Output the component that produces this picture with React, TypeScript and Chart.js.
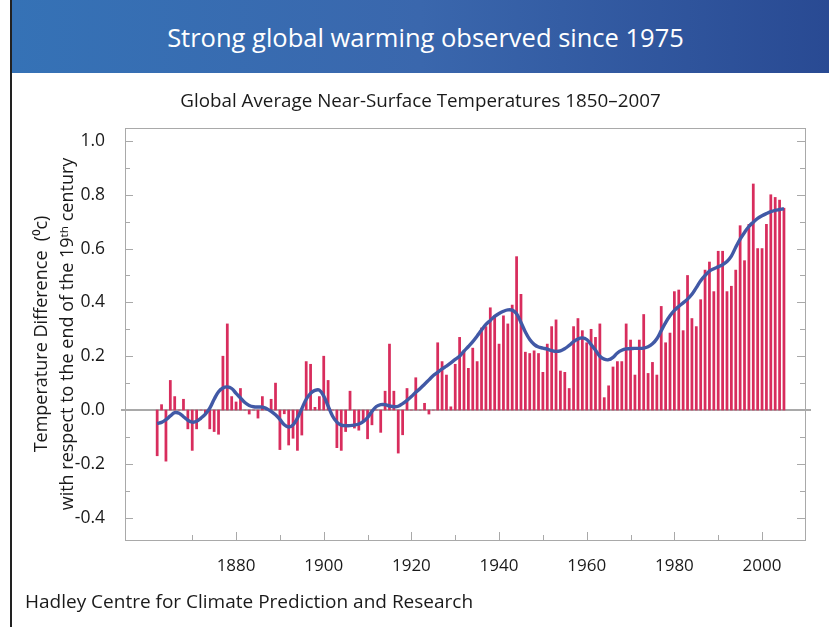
import React, { useEffect, useRef } from 'react';
import { Chart, registerables } from 'chart.js';

Chart.register(...registerables);

// ---------- data ----------
const firstYear = 1862;

// annual temperature difference (°C) w.r.t. end of 19th century, 1862–2005
const anomalies = [
  -0.17, 0.02, -0.19, 0.11, 0.05, 0.0, 0.04, -0.07, -0.15, -0.07, // 1862-1871
  0.0, -0.01, -0.07, -0.08, -0.09, 0.2, 0.32, 0.05, 0.03, 0.08, // 1872-1881
  0.0, -0.015, 0.0, -0.03, 0.05, 0.0, 0.04, 0.1, -0.147, -0.014, // 1882-1891
  -0.13, -0.105, -0.15, -0.093, 0.18, 0.17, 0.01, 0.05, 0.2, 0.11, // 1892-1901
  0.0, -0.14, -0.15, -0.08, 0.07, -0.067, -0.075, -0.04, -0.107, -0.055, // 1902-1911
  0.0, -0.083, 0.07, 0.245, 0.07, -0.16, -0.092, 0.08, 0.0, 0.12, // 1912-1921
  0.0, 0.025, -0.015, 0.0, 0.25, 0.18, 0.13, 0.012, 0.17, 0.27, // 1922-1931
  0.22, 0.155, 0.23, 0.18, 0.305, 0.31, 0.38, 0.35, 0.245, 0.35, // 1932-1941
  0.32, 0.39, 0.57, 0.43, 0.215, 0.21, 0.22, 0.21, 0.14, 0.245, // 1942-1951
  0.31, 0.335, 0.145, 0.14, 0.08, 0.31, 0.34, 0.295, 0.25, 0.3, // 1952-1961
  0.27, 0.32, 0.046, 0.09, 0.16, 0.18, 0.18, 0.32, 0.26, 0.13, // 1962-1971
  0.26, 0.355, 0.136, 0.177, 0.13, 0.385, 0.25, 0.286, 0.44, 0.446, // 1972-1981
  0.295, 0.5, 0.34, 0.31, 0.41, 0.52, 0.55, 0.44, 0.59, 0.59, // 1982-1991
  0.44, 0.46, 0.52, 0.685, 0.555, 0.69, 0.84, 0.6, 0.6, 0.69, // 1992-2001
  0.8, 0.79, 0.78, 0.75, // 2002-2005
];

// smoothed curve at each year 1862–2005
const smoothed = [
  -0.05, -0.046, -0.036, -0.022, -0.01, -0.012, -0.025, -0.038, -0.045, -0.042, // 1862-1871
  -0.03, -0.015, 0.007, 0.04, 0.068, 0.082, 0.086, 0.08, 0.062, 0.045, // 1872-1881
  0.028, 0.017, 0.012, 0.011, 0.011, 0.005, -0.005, -0.018, -0.035, -0.055, // 1882-1891
  -0.063, -0.055, -0.03, 0.005, 0.04, 0.062, 0.073, 0.074, 0.052, 0.015, // 1892-1901
  -0.022, -0.045, -0.056, -0.058, -0.058, -0.056, -0.052, -0.043, -0.028, -0.005, // 1902-1911
  0.013, 0.02, 0.02, 0.015, 0.012, 0.014, 0.024, 0.036, 0.05, 0.066, // 1912-1921
  0.08, 0.096, 0.112, 0.128, 0.14, 0.153, 0.163, 0.175, 0.188, 0.2, // 1922-1931
  0.219, 0.236, 0.254, 0.275, 0.297, 0.318, 0.333, 0.348, 0.359, 0.367, // 1932-1941
  0.372, 0.371, 0.358, 0.325, 0.29, 0.262, 0.244, 0.234, 0.23, 0.226, // 1942-1951
  0.221, 0.218, 0.22, 0.228, 0.24, 0.254, 0.264, 0.268, 0.262, 0.243, // 1952-1961
  0.222, 0.2, 0.189, 0.187, 0.196, 0.212, 0.222, 0.227, 0.228, 0.229, // 1962-1971
  0.229, 0.23, 0.235, 0.246, 0.265, 0.295, 0.325, 0.35, 0.37, 0.385, // 1972-1981
  0.398, 0.412, 0.43, 0.455, 0.48, 0.5, 0.516, 0.525, 0.532, 0.54, // 1982-1991
  0.552, 0.572, 0.605, 0.635, 0.66, 0.682, 0.698, 0.712, 0.722, 0.73, // 1992-2001
  0.737, 0.742, 0.745, 0.748, // 2002-2005
];

const years = anomalies.map((_, i) => firstYear + i);

const xTickValues = [1870, 1880, 1890, 1900, 1910, 1920, 1930, 1940, 1950, 1960, 1970, 1980, 1990, 2000];
const xLabelYears = [1880, 1900, 1920, 1940, 1960, 1980, 2000];
const yTickValues = [-0.4, -0.3, -0.2, -0.1, 0.0, 0.1, 0.2, 0.3, 0.4, 0.5, 0.6, 0.7, 0.8, 0.9, 1.0];
const yLabelValues = [-0.4, -0.2, 0.0, 0.2, 0.4, 0.6, 0.8, 1.0];

const bannerTitle = 'Strong global warming observed since 1975';
const chartTitle = 'Global Average Near-Surface Temperatures 1850–2007';
const yTitle = ['Temperature Difference  (⁰c)', 'with respect to the end of the 19ᵗʰ century'];
const footer = 'Hadley Centre for Climate Prediction and Research';

const FONT = "'Open Sans', 'Noto Sans', 'DejaVu Sans', sans-serif";

const isIn = (list: number[], v: number) => list.some((t) => Math.abs(t - v) < 1e-6);

const framePlugin = {
  id: 'frame',
  beforeDatasetsDraw(chart: any) {
    const { ctx, chartArea: a, scales } = chart;
    const y = scales.y;
    const y0 = y.getPixelForValue(0);
    ctx.save();
    ctx.strokeStyle = '#a9a9a9';
    ctx.lineWidth = 1;
    ctx.strokeRect(a.left + 0.5, a.top + 0.5, a.right - a.left, a.bottom - a.top);
    ctx.lineWidth = 2;
    ctx.beginPath();
    ctx.moveTo(a.left - 4, y0);
    ctx.lineTo(a.right + 6, y0);
    ctx.stroke();
    ctx.lineWidth = 1;
    ctx.beginPath();
    yTickValues.forEach((v) => {
      const p = Math.round(y.getPixelForValue(v)) + 0.5;
      const len = isIn(yLabelValues, v) ? 8 : 5;
      ctx.moveTo(a.left, p);
      ctx.lineTo(a.left + len, p);
      ctx.moveTo(a.right, p);
      ctx.lineTo(a.right - len, p);
    });
    const x = scales.x;
    xTickValues.forEach((v) => {
      const p = Math.round(x.getPixelForValue(v)) + 0.5;
      const len = isIn(xLabelYears, v) ? 8 : 5;
      ctx.moveTo(p, a.bottom);
      ctx.lineTo(p, a.bottom - len);
    });
    ctx.stroke();
    ctx.restore();
  },
};

export default function App() {
  const ref = useRef<HTMLCanvasElement>(null);

  useEffect(() => {
    const chart = new Chart(ref.current as HTMLCanvasElement, {
      type: 'bar',
      data: {
        datasets: [
          {
            type: 'line',
            data: years.map((yr, i) => ({ x: yr, y: smoothed[i] })),
            borderColor: '#4159a6',
            borderWidth: 3.4,
            pointRadius: 0,
            tension: 0.4,
            fill: false,
            order: 0,
          } as any,
          {
            type: 'bar',
            data: years.map((yr, i) => ({ x: yr, y: anomalies[i] })),
            backgroundColor: '#d82d5d',
            borderWidth: 0,
            barThickness: 2.1,
            order: 1,
          } as any,
        ],
      },
      options: {
        responsive: false,
        animation: false,
        layout: { padding: { left: 29, right: 24, top: 128, bottom: 0 } },
        plugins: {
          legend: { display: false },
          tooltip: { enabled: false },
          title: { display: false },
        },
        scales: {
          x: {
            type: 'linear',
            min: 1854.66,
            max: 2009.8,
            offset: false,
            grid: { display: false },
            border: { display: false },
            afterBuildTicks: (s: any) => {
              s.ticks = xTickValues.map((v) => ({ value: v }));
            },
            afterFit: (s: any) => {
              s.height = 87;
            },
            ticks: {
              autoSkip: false,
              maxRotation: 0,
              padding: 8,
              color: '#1a1a1a',
              font: { family: FONT, size: 17 },
              callback: (v: any) => (isIn(xLabelYears, Number(v)) ? String(v) : ''),
            },
          },
          y: {
            type: 'linear',
            min: -0.483,
            max: 1.048,
            grid: { display: false },
            border: { display: false },
            afterBuildTicks: (s: any) => {
              s.ticks = yTickValues.map((v) => ({ value: v }));
            },
            afterFit: (s: any) => {
              s.width = 96;
            },
            ticks: {
              autoSkip: false,
              padding: 12,
              color: '#1a1a1a',
              font: { family: FONT, size: 17.5 },
              callback: (v: any) => {
                const n = Number(v);
                if (!isIn(yLabelValues, n)) return '';
                return Math.abs(n) < 1e-9 ? '0.0' : n.toFixed(1);
              },
            },
            title: {
              display: true,
              text: yTitle,
              color: '#1a1a1a',
              padding: 0,
              font: { family: FONT, size: 18, lineHeight: 1.45 },
            },
          },
        },
      } as any,
      plugins: [framePlugin],
    });
    return () => chart.destroy();
  }, []);

  return (
    <div
      style={{
        position: 'fixed',
        left: 0,
        top: 0,
        width: 829,
        height: 627,
        background: '#fff',
        overflow: 'hidden',
        fontFamily: FONT,
        color: '#1a1a1a',
      }}
    >
      <canvas ref={ref} width={829} height={627} style={{ position: 'absolute', left: 0, top: 0 }} />
      <div
        style={{
          position: 'absolute',
          left: 10,
          top: 0,
          width: 2,
          height: 627,
          background: '#222',
        }}
      />
      <div
        style={{
          position: 'absolute',
          left: 12,
          top: 0,
          right: 0,
          height: 73,
          paddingLeft: 10,
          boxSizing: 'border-box',
          background: 'linear-gradient(90deg, #3572b6 0%, #3a67ad 50%, #294a93 100%)',
          color: '#fff',
          fontSize: 25.5,
          display: 'flex',
          alignItems: 'center',
          justifyContent: 'center',
        }}
      >
        {bannerTitle}
      </div>
      <div
        style={{
          position: 'absolute',
          left: 12,
          right: 0,
          top: 88,
          textAlign: 'center',
          fontSize: 18.8,
          lineHeight: '24px',
        }}
      >
        {chartTitle}
      </div>
      <div style={{ position: 'absolute', left: 25, top: 589, fontSize: 19, lineHeight: '24px' }}>{footer}</div>
    </div>
  );
}
